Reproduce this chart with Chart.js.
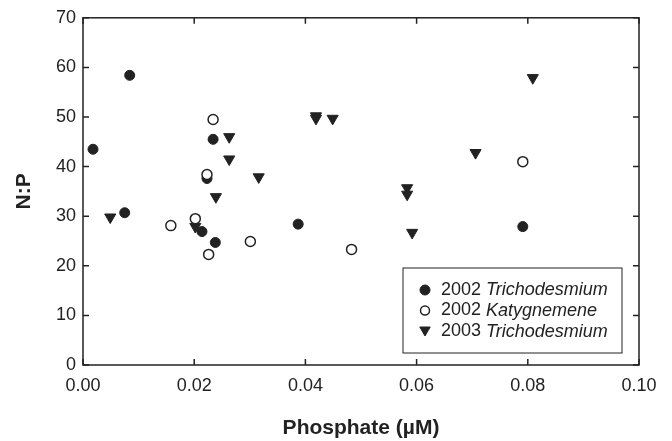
<!DOCTYPE html>
<html>
<head>
<meta charset="utf-8">
<script src="https://cdn.jsdelivr.net/npm/chart.js@4.4.0/dist/chart.umd.min.js"></script>
<style>
  html, body { margin: 0; padding: 0; background: #fff; }
  #wrap { width: 672px; height: 441px; }
</style>
</head>
<body>
<div id="wrap"><canvas id="np-chart" width="672" height="441"></canvas></div>
<script>
// phosphate (uM) vs N:P
const tricho2002X = [0.0018, 0.0084, 0.0075, 0.0234, 0.0223, 0.0214, 0.0238, 0.0387, 0.0791];
const tricho2002Y = [43.5, 58.4, 30.7, 45.5, 37.6, 26.9, 24.7, 28.4, 27.9];

const katy2002X = [0.0158, 0.0202, 0.0223, 0.0234, 0.0226, 0.0301, 0.0483, 0.0791];
const katy2002Y = [28.1, 29.5, 38.4, 49.5, 22.3, 24.9, 23.3, 41.0];

const tricho2003X = [0.0049, 0.0202, 0.0239, 0.0263, 0.0263, 0.0316, 0.0419, 0.0419, 0.0449, 0.0706, 0.0583, 0.0583, 0.0592, 0.0809];
const tricho2003Y = [29.8, 27.9, 33.9, 46.0, 41.5, 37.9, 50.2, 49.7, 49.7, 42.8, 35.7, 34.4, 26.7, 57.9];

const xTickValues = [0, 0.02, 0.04, 0.06, 0.08, 0.1];
const xTickLabels = ["0.00", "0.02", "0.04", "0.06", "0.08", "0.10"];
const yTickValues = [0, 10, 20, 30, 40, 50, 60, 70];
const yTickLabels = ["0", "10", "20", "30", "40", "50", "60", "70"];

const legendYears = ["2002", "2002", "2003"];
const legendNames = ["Trichodesmium", "Katygnemene", "Trichodesmium"];

const INK = "#222";
const FONT = "'Liberation Sans', Arial, Helvetica, sans-serif";

const toPoints = (xs, ys) => xs.map((x, i) => ({ x, y: ys[i] }));

// box round the plot with inward ticks on all four sides
const frameTicks = {
  id: "frameTicks",
  afterDatasetsDraw(chart) {
    const { ctx, chartArea: a, scales } = chart;
    const len = 6;
    ctx.save();
    ctx.strokeStyle = INK;
    ctx.lineWidth = 1.5;
    ctx.strokeRect(a.left, a.top, a.right - a.left, a.bottom - a.top);
    ctx.beginPath();
    scales.x.ticks.forEach((t) => {
      const px = scales.x.getPixelForValue(t.value);
      ctx.moveTo(px, a.bottom);
      ctx.lineTo(px, a.bottom - len);
      ctx.moveTo(px, a.top);
      ctx.lineTo(px, a.top + len);
    });
    scales.y.ticks.forEach((t) => {
      const py = scales.y.getPixelForValue(t.value);
      ctx.moveTo(a.left, py);
      ctx.lineTo(a.left + len, py);
      ctx.moveTo(a.right, py);
      ctx.lineTo(a.right - len, py);
    });
    ctx.stroke();
    ctx.restore();
  },
};

// legend box in lower right, year upright + genus in italics
const boxLegend = {
  id: "boxLegend",
  afterDraw(chart) {
    const { ctx } = chart;
    const box = { left: 403, top: 268, right: 622, bottom: 353 };
    ctx.save();
    ctx.fillStyle = "#fff";
    ctx.fillRect(box.left, box.top, box.right - box.left, box.bottom - box.top);
    ctx.strokeStyle = INK;
    ctx.lineWidth = 1;
    ctx.strokeRect(box.left, box.top, box.right - box.left, box.bottom - box.top);

    const rowY = [290, 310.5, 331.5];
    chart.data.datasets.forEach((ds, i) => {
      const y = rowY[i];
      ctx.fillStyle = ds.backgroundColor;
      ctx.strokeStyle = ds.borderColor;
      ctx.lineWidth = ds.borderWidth;
      Chart.helpers.drawPoint(ctx, {
        pointStyle: ds.pointStyle,
        radius: ds.legendRadius,
        rotation: ds.rotation || 0,
        borderWidth: ds.borderWidth,
      }, 425, y - (ds.rotation ? 1.5 : 0));

      ctx.fillStyle = INK;
      ctx.textBaseline = "middle";
      ctx.textAlign = "left";
      ctx.font = "18px " + FONT;
      const yr = legendYears[i] + " ";
      ctx.fillText(yr, 441, y);
      const w = ctx.measureText(yr).width;
      ctx.font = "italic 18px " + FONT;
      ctx.fillText(legendNames[i], 441 + w, y);
    });
    ctx.restore();
  },
};

const npChart = new Chart(document.getElementById("np-chart"), {
  type: "scatter",
  data: {
    datasets: [
      {
        label: "2002 Trichodesmium",
        data: toPoints(tricho2002X, tricho2002Y),
        pointStyle: "circle",
        backgroundColor: INK,
        borderColor: INK,
        borderWidth: 1,
        pointRadius: 5,
        legendRadius: 5,
        order: 1,
      },
      {
        label: "2002 Katygnemene",
        data: toPoints(katy2002X, katy2002Y),
        pointStyle: "circle",
        backgroundColor: "#fff",
        borderColor: INK,
        borderWidth: 1.5,
        pointRadius: 5,
        legendRadius: 4.5,
        order: 0,
      },
      {
        label: "2003 Trichodesmium",
        data: toPoints(tricho2003X, tricho2003Y),
        pointStyle: "triangle",
        rotation: 180,
        pointRotation: 180,
        backgroundColor: INK,
        borderColor: INK,
        borderWidth: 1,
        pointRadius: 6.4,
        legendRadius: 6,
        order: 2,
      },
    ],
  },
  options: {
    responsive: false,
    animation: false,
    events: [],
    layout: {
      padding: { top: 14, right: 33, left: 0, bottom: 0 },
    },
    plugins: {
      legend: { display: false },
      tooltip: { enabled: false },
    },
    scales: {
      x: {
        type: "linear",
        min: 0,
        max: 0.1,
        afterFit: (s) => { s.height = 76; },
        afterBuildTicks: (s) => { s.ticks = xTickValues.map((v) => ({ value: v })); },
        border: { display: false },
        grid: { display: false, drawTicks: false },
        ticks: {
          padding: 10,
          color: INK,
          maxRotation: 0,
          font: { family: FONT, size: 18 },
          callback: (v, i) => xTickLabels[i],
        },
        title: {
          display: true,
          text: "Phosphate (µM)",
          color: INK,
          padding: 0,
          font: { family: FONT, size: 21, weight: "bold" },
        },
      },
      y: {
        type: "linear",
        min: 0,
        max: 70,
        afterFit: (s) => { s.width = 83; },
        afterBuildTicks: (s) => { s.ticks = yTickValues.map((v) => ({ value: v })); },
        border: { display: false },
        grid: { display: false, drawTicks: false },
        ticks: {
          padding: 7,
          color: INK,
          font: { family: FONT, size: 18 },
          callback: (v, i) => yTickLabels[i],
        },
        title: {
          display: true,
          text: "N:P",
          color: INK,
          padding: 12,
          font: { family: FONT, size: 21, weight: "bold" },
        },
      },
    },
  },
  plugins: [frameTicks, boxLegend],
});
</script>
</body>
</html>
